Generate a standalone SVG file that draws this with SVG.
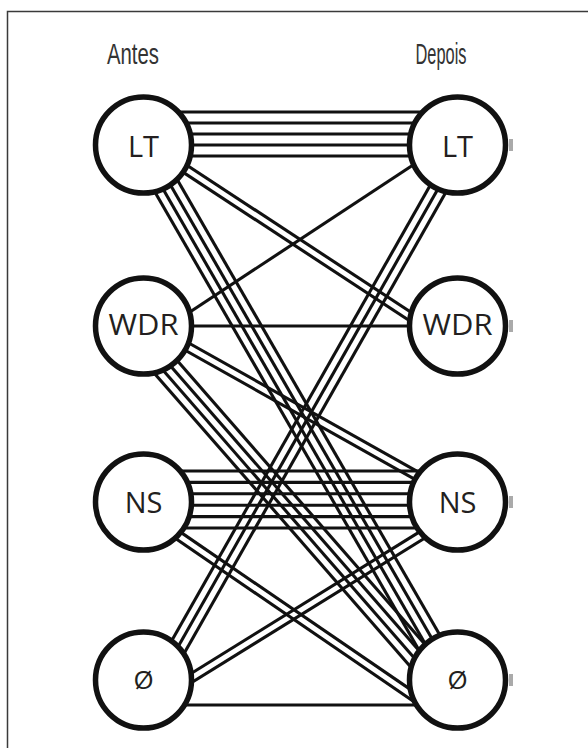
<svg xmlns="http://www.w3.org/2000/svg" width="588" height="748" viewBox="0 0 588 748">
<style>
.frame{fill:none;stroke:#3a3a3a;stroke-width:1.5}
.c line{stroke:#111;stroke-width:3.1;stroke-linecap:butt}
.node circle{fill:#fff;stroke:#111;stroke-width:5.5}
.lbl{font-family:"Open Sans","Noto Sans",sans-serif;font-size:29px;fill:#231f20;text-anchor:middle}
.hdr{font-family:"Liberation Sans",Arial,sans-serif;font-size:30px;fill:#333;text-anchor:middle}
.stub{fill:#aaa}
</style>
<rect x="0" y="0" width="588" height="748" fill="#fff"/>
<path class="frame" d="M7.5,748 V11.5 H588"/>
<text class="hdr" x="133" y="64" textLength="52" lengthAdjust="spacingAndGlyphs">Antes</text>
<text class="hdr" x="441" y="64" textLength="51" lengthAdjust="spacingAndGlyphs">Depois</text>
<g id="connectors" class="c">
<!-- LT -> LT (5) -->
<line x1="165" y1="112" x2="435" y2="112"/>
<line x1="165" y1="123" x2="435" y2="123"/>
<line x1="165" y1="134" x2="435" y2="134"/>
<line x1="165" y1="145" x2="435" y2="145"/>
<line x1="165" y1="156" x2="435" y2="156"/>
<!-- LT -> WDR (2) -->
<line x1="157.8" y1="155.6" x2="437.8" y2="339.3"/>
<line x1="162.2" y1="149.0" x2="442.2" y2="332.7"/>
<!-- LT -> Ø (4) -->
<line x1="159.3" y1="148.6" x2="450.5" y2="653.6"/>
<line x1="152.0" y1="152.9" x2="443.1" y2="657.9"/>
<line x1="144.6" y1="157.1" x2="435.7" y2="662.1"/>
<line x1="137.3" y1="161.4" x2="428.4" y2="666.4"/>
<!-- WDR -> LT (1) -->
<line x1="160" y1="331.7" x2="440" y2="147.2"/>
<!-- WDR -> WDR (1) -->
<line x1="160" y1="326" x2="440" y2="326"/>
<!-- WDR -> NS (2) -->
<line x1="158.0" y1="335.0" x2="443.0" y2="495.1"/>
<line x1="162.0" y1="328.0" x2="447.0" y2="488.1"/>
<!-- WDR -> Ø (4) -->
<line x1="160.6" y1="341.6" x2="435.6" y2="656.6"/>
<line x1="154.2" y1="347.2" x2="429.2" y2="662.2"/>
<line x1="147.8" y1="352.8" x2="422.8" y2="667.8"/>
<line x1="141.4" y1="358.4" x2="416.4" y2="673.4"/>
<!-- NS -> NS (6) -->
<line x1="160" y1="471" x2="440" y2="471"/>
<line x1="160" y1="482.4" x2="440" y2="482.4"/>
<line x1="160" y1="493.8" x2="440" y2="493.8"/>
<line x1="160" y1="505.2" x2="440" y2="505.2"/>
<line x1="160" y1="516.6" x2="440" y2="516.6"/>
<line x1="160" y1="528" x2="440" y2="528"/>
<!-- NS -> Ø (2) -->
<line x1="157.7" y1="526.2" x2="432.7" y2="714.5"/>
<line x1="162.3" y1="519.6" x2="437.3" y2="707.9"/>
<!-- Ø -> LT (3) -->
<line x1="166.0" y1="650.8" x2="441.3" y2="165.8"/>
<line x1="173.4" y1="655.0" x2="448.7" y2="170.0"/>
<line x1="180.8" y1="659.2" x2="456.1" y2="174.2"/>
<!-- Ø -> NS (2) -->
<line x1="162.9" y1="691.0" x2="442.9" y2="517.4"/>
<line x1="167.1" y1="697.8" x2="447.1" y2="524.2"/>
<!-- Ø -> Ø (1) -->
<line x1="160" y1="705" x2="440" y2="705"/>
</g>
<g id="antes-LT" class="node"><circle cx="143.5" cy="145" r="48"/><text class="lbl" x="143.5" y="157">LT</text></g>
<g id="antes-WDR" class="node"><circle cx="143.5" cy="326" r="48"/><text class="lbl" x="143.5" y="335" textLength="70" lengthAdjust="spacingAndGlyphs">WDR</text></g>
<g id="antes-NS" class="node"><circle cx="143.5" cy="502" r="48"/><text class="lbl" x="143.5" y="513">NS</text></g>
<g id="antes-O" class="node"><circle cx="143.5" cy="680" r="48"/><text class="lbl" x="143.5" y="689" style="font-size:26px">Ø</text></g>
<g id="depois-LT" class="node"><circle cx="457.5" cy="145" r="48"/><text class="lbl" x="457.5" y="157">LT</text></g>
<g id="depois-WDR" class="node"><circle cx="457.5" cy="326" r="48"/><text class="lbl" x="457.5" y="335" textLength="70" lengthAdjust="spacingAndGlyphs">WDR</text></g>
<g id="depois-NS" class="node"><circle cx="457.5" cy="502" r="48"/><text class="lbl" x="457.5" y="513">NS</text></g>
<g id="depois-O" class="node"><circle cx="457.5" cy="680" r="48"/><text class="lbl" x="457.5" y="689" style="font-size:26px">Ø</text></g>
<rect class="stub" x="509" y="139" width="4" height="12"/>
<rect class="stub" x="509" y="320" width="4" height="12"/>
<rect class="stub" x="509" y="496" width="4" height="12"/>
<rect class="stub" x="509" y="674" width="4" height="12"/>
</svg>
